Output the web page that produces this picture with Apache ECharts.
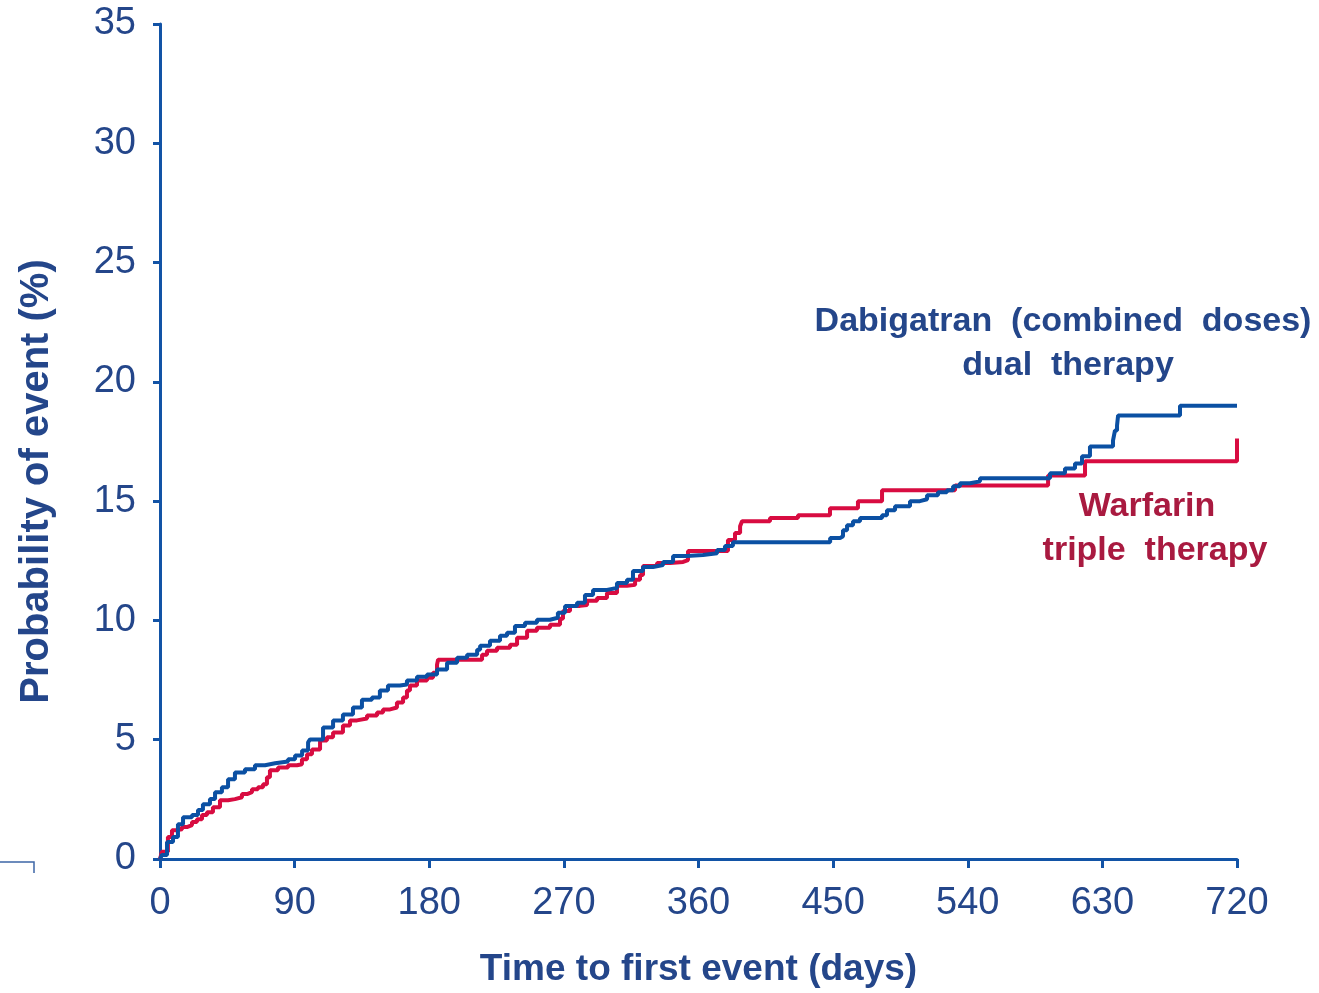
<!DOCTYPE html>
<html>
<head>
<meta charset="utf-8">
<script src="https://cdn.jsdelivr.net/npm/echarts@6/dist/echarts.min.js"></script>
<style>
  html, body { margin: 0; padding: 0; background: #ffffff; }
  #chart { width: 1319px; height: 993px; }
</style>
</head>
<body>
<div id="chart"></div>
<script>
// Cumulative probability of first event (%) by day, Kaplan-Meier style steps
const xTicks = [0, 90, 180, 270, 360, 450, 540, 630, 720];
const yTicks = [0, 5, 10, 15, 20, 25, 30, 35];

// Dabigatran (combined doses) dual therapy: [day, percent]
const dabigatran = [
  [0, 0], [1.3, 0.17], [4.7, 0.71], [8.7, 0.92], [12, 1.46], [15.4, 1.75], [21.4, 1.84],
  [25.4, 2.05], [28.7, 2.30], [33.4, 2.51], [36.8, 2.80], [41.4, 3.01], [45.5, 3.34],
  [50.1, 3.63], [56.8, 3.76], [63.5, 3.93], [70.2, 4.01], [76.9, 4.09], [85.6, 4.18],
  [90.3, 4.34], [95, 4.55], [99, 4.89], [100.3, 5.01], [109, 5.51], [115.7, 5.81],
  [122.3, 6.06], [129, 6.35], [135, 6.68], [141.7, 6.77], [147, 7.06], [152.4, 7.27],
  [160.4, 7.31], [165.1, 7.48], [171.8, 7.64], [178.5, 7.73], [185.2, 7.94], [191.9, 8.23],
  [198.6, 8.44], [205.3, 8.56], [212, 8.77], [214, 8.94], [220.6, 9.15], [227.3, 9.36],
  [232, 9.48], [237.3, 9.77], [244, 9.90], [252, 10.03], [260.7, 10.11], [266, 10.32],
  [270.8, 10.61], [278.8, 10.74], [284.1, 11.07], [289.5, 11.28], [298.8, 11.36],
  [305.5, 11.57], [312.2, 11.70], [316.2, 12.07], [322.9, 12.24], [329.6, 12.32],
  [336.3, 12.45], [343, 12.70], [352.3, 12.74], [363, 12.82], [372.4, 12.95], [377.7, 13.12],
  [383, 13.28], [448, 13.45], [454.6, 13.53], [456.6, 13.78], [459.3, 13.99], [463.3, 14.16],
  [468, 14.29], [482.7, 14.41], [486, 14.62], [491.4, 14.79], [501.4, 15.0], [508, 15.08],
  [512.8, 15.25], [520.1, 15.37], [526.1, 15.46], [530.2, 15.62], [534.8, 15.75],
  [541.5, 15.83], [548.2, 15.96], [595, 16.17], [605, 16.37], [611.7, 16.58], [616.4, 16.88],
  [621.7, 17.29], [637.1, 17.54], [638.4, 17.96], [639.8, 18.17], [640.5, 18.59],
  [681.9, 19.0], [720, 19.0]
];

// Warfarin triple therapy: [day, percent]
const warfarin = [
  [0, 0], [1.3, 0.3], [5.3, 0.92], [8, 1.21], [11.4, 1.25], [14.7, 1.34], [18, 1.42],
  [21.4, 1.55], [24.7, 1.67], [28.1, 1.84], [31.4, 1.96], [35.4, 2.17], [40.1, 2.46],
  [45.5, 2.51], [50.1, 2.59], [54.8, 2.72], [58.2, 2.80], [61.5, 2.92], [65.5, 3.01],
  [68.9, 3.13], [71.5, 3.43], [73.5, 3.72], [78.9, 3.84], [85.6, 3.93], [91.6, 3.97],
  [94.9, 4.18], [98.3, 4.39], [101.6, 4.59], [107, 4.97], [111.6, 5.10], [115.7, 5.30],
  [122.3, 5.60], [127, 5.81], [131.7, 5.89], [138.4, 6.02], [145.1, 6.14], [149.1, 6.27],
  [153.8, 6.35], [158.4, 6.56], [162.5, 6.77], [165.1, 7.06], [167.1, 7.27], [171.8, 7.48],
  [178.5, 7.60], [182.5, 7.81], [185.2, 8.15], [185.9, 8.35], [215.3, 8.56], [218.6, 8.73],
  [225.3, 8.86], [234, 8.98], [238.7, 9.27], [245.4, 9.57], [252, 9.69], [260.7, 9.82],
  [267.4, 10.07], [269.4, 10.40], [274.1, 10.61], [280.8, 10.65], [285.5, 10.82],
  [292.2, 10.94], [298.8, 11.15], [305.5, 11.45], [312.2, 11.49], [317.6, 11.70],
  [320.9, 11.90], [322.9, 12.28], [332.3, 12.41], [341, 12.45], [349.7, 12.53], [353, 12.91],
  [379.7, 13.37], [384.4, 13.66], [387.8, 13.95], [389.1, 14.16], [407.8, 14.29],
  [426.5, 14.41], [447.9, 14.70], [466.6, 15.0], [482.7, 15.46], [531.5, 15.66],
  [593.7, 16.08], [618.4, 16.67], [720, 17.63]
];

const AXIS_BLUE = '#1253a6';
const TEXT_BLUE = '#24468a';
const LINE_BLUE = '#0b50a3';
const LINE_RED = '#d80c41';
const TEXT_RED = '#a91a40';
const FONT = '"Liberation Sans", Arial, sans-serif';

const chart = echarts.init(document.getElementById('chart'), null, { renderer: 'canvas' });

function caption(text, x, y, color) {
  return {
    type: 'text',
    x: x,
    y: y,
    style: {
      text: text,
      fill: color,
      font: 'bold 34px ' + FONT,
      textAlign: 'center',
      textVerticalAlign: 'middle'
    }
  };
}

chart.setOption({
  animation: false,
  backgroundColor: '#ffffff',
  grid: { left: 160, right: 82, top: 24, bottom: 131, containLabel: false },
  xAxis: {
    type: 'value',
    min: xTicks[0],
    max: xTicks[xTicks.length - 1],
    interval: 90,
    name: 'Time to first event (days)',
    nameLocation: 'middle',
    nameGap: 92,
    nameTextStyle: { color: TEXT_BLUE, fontSize: 37, fontWeight: 'bold', fontFamily: FONT },
    axisLine: { show: true, lineStyle: { color: AXIS_BLUE, width: 3 } },
    axisTick: { show: true, length: 9, lineStyle: { color: AXIS_BLUE, width: 3 } },
    axisLabel: { color: TEXT_BLUE, fontSize: 38, fontFamily: FONT, margin: 26 },
    splitLine: { show: false }
  },
  yAxis: {
    type: 'value',
    min: yTicks[0],
    max: yTicks[yTicks.length - 1],
    interval: 5,
    name: 'Probability of event (%)',
    nameLocation: 'middle',
    nameGap: 103,
    nameTextStyle: {
      color: TEXT_BLUE, fontSize: 40, fontWeight: 'bold', fontFamily: FONT,
      padding: [0, 80, 0, 0]
    },
    axisLine: { show: true, lineStyle: { color: AXIS_BLUE, width: 3 } },
    axisTick: { show: true, length: 7, lineStyle: { color: AXIS_BLUE, width: 3 } },
    axisLabel: { color: TEXT_BLUE, fontSize: 38, fontFamily: FONT, margin: 24 },
    splitLine: { show: false }
  },
  series: [
    {
      name: 'Warfarin triple therapy',
      type: 'line',
      step: 'end',
      data: warfarin,
      showSymbol: false,
      lineStyle: { color: LINE_RED, width: 4 },
      z: 2
    },
    {
      name: 'Dabigatran (combined doses) dual therapy',
      type: 'line',
      step: 'end',
      data: dabigatran,
      showSymbol: false,
      lineStyle: { color: LINE_BLUE, width: 4 },
      z: 3
    }
  ],
  graphic: [
    caption('Dabigatran  (combined  doses)', 1063, 322, TEXT_BLUE),
    caption('dual  therapy', 1068, 366, TEXT_BLUE),
    caption('Warfarin', 1147, 507, TEXT_RED),
    caption('triple  therapy', 1155, 551, TEXT_RED),
    {
      type: 'polyline',
      shape: { points: [[0, 862], [34, 862], [34, 873]] },
      style: { stroke: '#3d66a6', lineWidth: 1.5, fill: null }
    }
  ]
});
</script>
</body>
</html>
